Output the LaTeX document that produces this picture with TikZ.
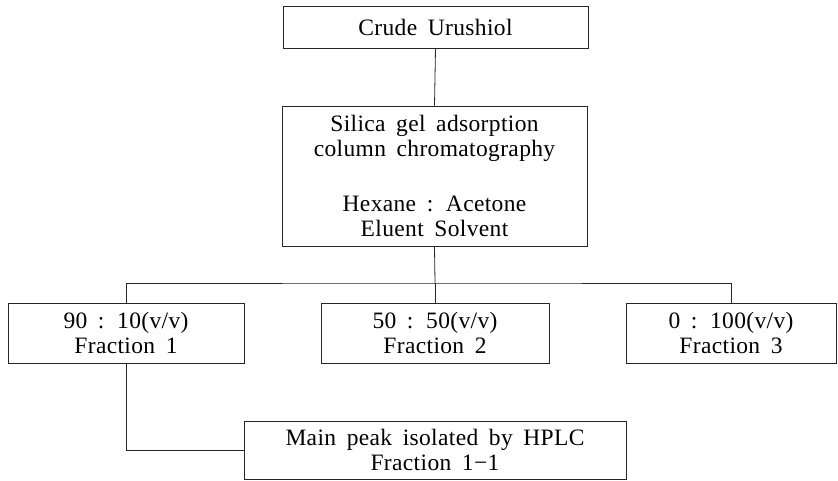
\documentclass[tikz,border=0pt]{standalone}
\usepackage{fontspec}
\setmainfont{Liberation Serif}[WordSpace=1.7, LetterSpace=1.5]
\begin{document}
\begin{tikzpicture}[x=1pt,y=-1pt,
  box/.style={draw=black!85, line width=0.8pt, inner sep=0pt, align=center,
    font=\fontsize{23.5}{25}\selectfont},
  link/.style={draw=black!85, line width=0.8pt}]
\useasboundingbox (0,0) rectangle (838,481);
\node[box, minimum width=305pt, minimum height=42pt] (crude) at (435.5,27) {Crude Urushiol};
\node[box, minimum width=305pt, minimum height=140pt] (silica) at (434.5,176)
  {Silica gel adsorption\\column chromatography\\[30pt]Hexane : Acetone\\Eluent Solvent};
\node[box, minimum width=236pt, minimum height=60pt] (f1) at (126,333) {90 : 10(v/v)\\Fraction 1};
\node[box, minimum width=228pt, minimum height=60pt] (f2) at (435,333) {50 : 50(v/v)\\Fraction 2};
\node[box, minimum width=210pt, minimum height=60pt] (f3) at (731,333) {0 : 100(v/v)\\Fraction 3};
\node[box, minimum width=382pt, minimum height=58pt] (hplc) at (435,450) {Main peak isolated by HPLC\\Fraction 1−1};
\coordinate (bus) at (435,283);
\draw[link] (crude.south) -- (silica.north);
\draw[link] (silica.south) -- (bus);
\draw[link] (f1.north) |- (bus) -| (f3.north);
\draw[link] (bus) -- (f2.north);
\draw[link] (f1.south) |- (hplc.west);
\end{tikzpicture}
\end{document}
